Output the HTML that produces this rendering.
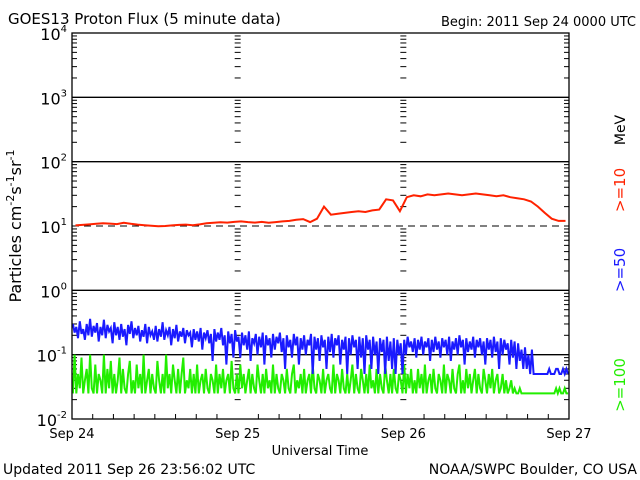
<!DOCTYPE html>
<html><head><meta charset="utf-8"><style>
html,body{margin:0;padding:0;background:#fff;}
svg{display:block;font-family:"DejaVu Sans","Liberation Sans",sans-serif;}
</style></head><body>
<svg id="chart" width="640" height="480" viewBox="0 0 640 480">
<text x="8" y="24" font-size="15">GOES13 Proton Flux (5 minute data)</text>
<text x="636" y="26" font-size="13" text-anchor="end">Begin: 2011 Sep 24 0000 UTC</text>
<text transform="translate(21,226) rotate(-90)" font-size="16" text-anchor="middle">Particles cm<tspan dy="-7" font-size="11">-2</tspan><tspan dy="7">s</tspan><tspan dy="-7" font-size="11">-1</tspan><tspan dy="7">sr</tspan><tspan dy="-7" font-size="11">-1</tspan></text>
<text transform="translate(625,130) rotate(-90)" font-size="14" text-anchor="middle">MeV</text>
<text transform="translate(625,190) rotate(-90)" font-size="15" fill="#ff2200" text-anchor="middle">&gt;=10</text>
<text transform="translate(625,270) rotate(-90)" font-size="15" fill="#1a1aff" text-anchor="middle">&gt;=50</text>
<text transform="translate(625,385) rotate(-90)" font-size="15" fill="#22ee00" text-anchor="middle">&gt;=100</text>
<text x="320" y="455" font-size="13" text-anchor="middle">Universal Time</text>
<text x="3" y="474" font-size="14">Updated 2011 Sep 26 23:56:02 UTC</text>
<text x="637" y="474" font-size="14" text-anchor="end">NOAA/SWPC Boulder, CO USA</text>
<g id="plot"></g>
</svg>
<script>
const dayLabels=["Sep 24","Sep 25","Sep 26","Sep 27"];
const decadeExps=[4,3,2,1,0,-1,-2];
const red=[10.2,10.4,10.6,10.8,11,10.9,10.7,11.2,10.8,10.5,10.3,10.1,9.9,10,10.2,10.4,10.5,10.3,10.6,11,11.2,11.4,11.3,11.6,
11.8,11.5,11.3,11.6,11.2,11.5,11.8,12,12.5,12.8,11.5,13,20,15,15.5,16,16.5,17,16.5,17.5,18,26,25,17,
28,30,29,31,30,31,32,31,30,31,32,31,30,29,30,28,27,26,24,20,16,13,12,12];
const blue=[0.3,0.22,0.27,0.18,0.33,0.21,0.25,0.17,0.3,0.2,0.36,0.19,0.28,0.22,0.31,0.16,0.27,0.2,0.35,0.18,0.29,0.23,0.26,0.15,
0.32,0.2,0.27,0.17,0.3,0.19,0.25,0.14,0.29,0.21,0.33,0.18,0.26,0.2,0.28,0.16,0.24,0.19,0.3,0.15,0.27,0.2,0.23,0.17,
0.28,0.16,0.25,0.19,0.32,0.17,0.24,0.2,0.27,0.14,0.25,0.18,0.29,0.16,0.23,0.19,0.26,0.15,0.24,0.2,0.22,0.13,0.25,0.17,
0.23,0.16,0.26,0.12,0.22,0.18,0.24,0.15,0.21,0.08,0.25,0.16,0.22,0.17,0.26,0.14,0.2,0.07,0.23,0.15,0.21,0.09,0.24,0.16,
0.19,0.09,0.22,0.14,0.2,0.12,0.23,0.08,0.18,0.15,0.21,0.1,0.19,0.13,0.22,0.07,0.2,0.14,0.18,0.09,0.21,0.12,0.19,0.15,
0.22,0.11,0.18,0.06,0.2,0.13,0.17,0.09,0.21,0.14,0.19,0.07,0.18,0.12,0.2,0.1,0.17,0.14,0.21,0.05,0.19,0.12,0.18,0.08,
0.2,0.13,0.17,0.06,0.19,0.11,0.21,0.09,0.18,0.14,0.2,0.07,0.17,0.12,0.19,0.05,0.18,0.1,0.2,0.13,0.17,0.06,0.19,0.09,
0.18,0.05,0.2,0.12,0.17,0.06,0.19,0.1,0.16,0.05,0.18,0.11,0.17,0.05,0.19,0.08,0.16,0.06,0.18,0.05,0.17,0.1,0.15,0.05,
0.17,0.1,0.19,0.13,0.16,0.11,0.18,0.09,0.17,0.12,0.19,0.1,0.16,0.13,0.18,0.08,0.17,0.11,0.19,0.12,0.16,0.09,0.18,0.13,
0.17,0.1,0.19,0.08,0.16,0.12,0.18,0.1,0.2,0.13,0.17,0.07,0.18,0.11,0.16,0.12,0.19,0.09,0.17,0.13,0.18,0.1,0.16,0.07,
0.18,0.12,0.17,0.09,0.19,0.11,0.16,0.06,0.18,0.1,0.17,0.12,0.15,0.07,0.17,0.09,0.16,0.06,0.15,0.08,0.12,0.06,0.13,0.06,
0.1,0.05,0.12,0.05,0.05,0.05,0.05,0.05,0.05,0.05,0.05,0.05,0.06,0.05,0.05,0.05,0.06,0.06,0.05,0.05,0.06,0.05,0.06,0.05];
const green=[0.025,0.1,0.025,0.05,0.03,0.09,0.025,0.04,0.06,0.025,0.1,0.03,0.025,0.07,0.025,0.05,0.04,0.025,0.1,0.025,0.06,0.03,0.08,0.025,
0.05,0.025,0.04,0.09,0.025,0.06,0.03,0.025,0.05,0.08,0.025,0.04,0.025,0.07,0.03,0.05,0.025,0.1,0.025,0.04,0.06,0.025,0.05,0.03,
0.025,0.08,0.04,0.025,0.05,0.025,0.1,0.03,0.05,0.025,0.07,0.04,0.025,0.06,0.025,0.05,0.09,0.025,0.04,0.03,0.06,0.025,0.05,0.025,
0.07,0.025,0.04,0.05,0.025,0.06,0.03,0.025,0.05,0.04,0.025,0.07,0.025,0.05,0.03,0.06,0.025,0.04,0.05,0.025,0.08,0.03,0.025,0.05,
0.025,0.07,0.03,0.05,0.025,0.04,0.06,0.025,0.05,0.03,0.025,0.07,0.04,0.025,0.05,0.025,0.06,0.03,0.04,0.025,0.07,0.025,0.05,0.03,
0.025,0.05,0.04,0.025,0.06,0.03,0.025,0.05,0.07,0.025,0.04,0.03,0.05,0.025,0.06,0.025,0.04,0.05,0.025,0.07,0.03,0.025,0.05,0.04,
0.025,0.06,0.025,0.04,0.05,0.03,0.025,0.07,0.025,0.05,0.04,0.025,0.06,0.03,0.025,0.05,0.025,0.04,0.07,0.025,0.05,0.03,0.025,0.06,
0.04,0.025,0.05,0.025,0.07,0.03,0.04,0.025,0.06,0.025,0.05,0.03,0.025,0.07,0.04,0.025,0.05,0.025,0.06,0.03,0.025,0.05,0.04,0.025,
0.07,0.025,0.05,0.03,0.06,0.025,0.04,0.025,0.06,0.03,0.05,0.025,0.07,0.025,0.04,0.05,0.025,0.06,0.03,0.025,0.05,0.04,0.025,0.07,
0.025,0.05,0.04,0.025,0.06,0.03,0.025,0.05,0.07,0.025,0.04,0.025,0.06,0.03,0.05,0.025,0.04,0.06,0.025,0.05,0.03,0.025,0.06,0.04,
0.025,0.05,0.03,0.06,0.025,0.04,0.05,0.025,0.03,0.05,0.025,0.04,0.025,0.03,0.04,0.025,0.03,0.025,0.025,0.03,0.025,0.025,0.025,0.025,
0.025,0.025,0.025,0.025,0.025,0.025,0.025,0.025,0.025,0.025,0.025,0.025,0.025,0.025,0.025,0.025,0.03,0.025,0.03,0.025,0.025,0.03,0.025,0.025];

const L=72,R=569,T=33,B=419;
const NS="http://www.w3.org/2000/svg";
const g=document.getElementById('plot');
function X(d){return L+(R-L)*d/3;}
function Y(v){return T+(B-T)*(4-Math.log10(v))/6;}
function mk(tag,attrs,name){const e=document.createElementNS(NS,tag);for(const k in attrs)e.setAttribute(k,attrs[k]);g.appendChild(e);return e;}
function line(x1,y1,x2,y2,name,extra){const a=Object.assign({x1:x1,y1:y1,x2:x2,y2:y2,stroke:'#000','stroke-width':1},extra||{});return mk('line',a,name);}
decadeExps.forEach(e=>{
  const y=Y(Math.pow(10,e));
  if(e===1){line(L,y,R,y,'threshold-line',{'stroke-dasharray':'7,5'});}
  else if(e!==4&&e!==-2){line(L,y,R,y,'decade-line',{'stroke-width':1.3});}
  const t=mk('text',{x:L-5,y:y+7,'font-size':16,'text-anchor':'end'},'y-tick-label');
  t.textContent='10';
  const s=document.createElementNS(NS,'tspan');s.setAttribute('dy','-8');s.setAttribute('font-size','10');s.textContent=String(e);
  
  
  t.appendChild(s);
});
for(let e=-2;e<4;e++){for(let m=2;m<=9;m++){
  const y=Y(m*Math.pow(10,e));
  line(L,y,L+5,y,'y-minor-tick');line(R-5,y,R,y,'y-minor-tick');
  line(X(1)-3,y,X(1)+3,y,'day-minor-tick');line(X(2)-3,y,X(2)+3,y,'day-minor-tick');
}}
for(let h=1;h<24;h++){const x=X(h/8);if(h%8)line(x,B,x,B-5,'x-minor-tick');}
dayLabels.forEach((lab,i)=>{
  const t=mk('text',{x:X(i),y:438,'font-size':13,'text-anchor':'middle'},'x-tick-label');t.textContent=lab;
});
function polyPath(arr,color,name,width){
  const n=arr.length;let d='';
  arr.forEach((v,i)=>{const x=X(3*(i+0.5)/n),y=Y(v);d+=(i?'L':'M')+x.toFixed(1)+','+y.toFixed(1);});
  mk('path',{d:d,fill:'none',stroke:color,'stroke-width':width},name);
}
polyPath(green,'#22ee00','series-ge100',2);
polyPath(blue,'#1a1aff','series-ge50',2);
polyPath(red,'#ff2200','series-ge10',2);
mk('rect',{x:L,y:T,width:R-L,height:B-T,fill:'none',stroke:'#000','stroke-width':1.3},'plot-frame');
</script>
</body></html>
